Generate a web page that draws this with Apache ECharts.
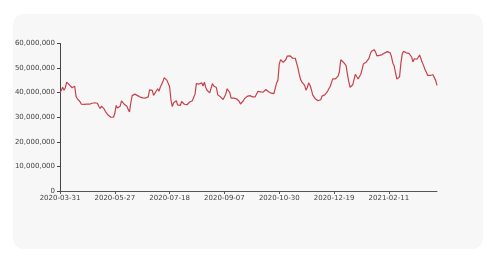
<!DOCTYPE html>
<html><head><meta charset="utf-8">
<script src="https://cdn.jsdelivr.net/npm/echarts@6/dist/echarts.min.js"></script>
<style>
html,body{margin:0;padding:0;background:#fff;width:487px;height:263px;overflow:hidden}
#card{position:absolute;left:13px;top:14px;width:470px;height:235px;background:#f7f7f7;border-radius:11px}
#c{position:absolute;left:0;top:0;width:487px;height:263px}
</style></head><body>
<div id="card"></div><div id="c"></div>
<script>
// anchor dates shown as x tick labels (every 41 categories)
const tickDates = ['2020-03-31','2020-05-27','2020-07-18','2020-09-07','2020-10-30','2020-12-19','2021-02-11'];
const perTick = 41;
const tailCount = 37; // categories from last tick label to the end (inclusive)
// series values, in millions
const valuesM = [
40.0,41.0,42.2,41.0,42.0,44.3,44.0,43.2,42.4,42.0,
42.6,42.6,38.5,37.5,37.0,36.3,35.3,35.1,35.2,35.2,
35.3,35.3,35.3,35.3,35.7,36.2,35.9,35.5,35.7,34.5,
33.6,34.5,34.3,33.4,32.3,31.5,30.9,30.4,30.0,29.8,
30.0,31.5,34.8,33.8,33.8,34.5,36.7,36.0,35.3,35.2,
34.5,33.2,32.2,36.0,38.8,39.2,39.4,39.0,38.8,38.5,
38.2,38.0,37.9,37.5,37.8,37.5,38.3,41.1,41.3,40.9,
38.9,39.2,40.7,41.6,40.6,42.2,43.0,44.5,46.1,45.6,
45.0,44.8,42.4,37.0,34.3,35.9,35.3,36.7,35.0,35.3,
34.8,36.4,35.9,35.3,35.9,35.1,35.9,36.2,36.2,36.7,
37.5,39.4,43.7,44.0,43.5,43.7,44.0,42.7,44.3,42.1,
41.0,40.2,39.9,39.7,43.7,42.7,42.7,42.1,39.1,38.8,
38.3,37.8,37.2,38.0,39.4,41.6,40.8,40.0,37.8,37.5,
37.8,37.6,37.5,37.3,36.5,35.4,35.9,36.6,37.5,38.3,
38.5,38.6,38.8,38.3,38.3,38.3,38.3,38.6,40.5,40.3,
40.3,40.5,40.2,40.8,41.3,40.6,40.4,40.1,39.8,40.5,
39.6,39.6,43.9,45.0,51.6,53.4,53.0,52.3,51.7,53.5,
54.9,55.1,55.0,55.5,54.0,54.0,54.0,53.4,50.0,47.4,
45.3,44.3,44.1,43.0,41.0,42.1,44.0,43.0,41.3,39.1,
38.6,37.5,37.0,36.7,36.7,37.1,38.6,38.1,39.1,39.4,
40.4,41.5,42.4,44.0,45.6,45.4,45.6,46.2,46.7,48.5,
53.4,53.2,52.4,52.2,51.0,47.5,44.5,42.2,41.6,43.2,
45.5,47.5,46.5,45.6,46.2,47.5,49.5,51.8,52.6,52.4,
52.3,53.8,55.6,56.8,57.4,57.5,56.6,55.0,54.3,55.2,
55.7,55.5,55.4,56.2,56.6,56.7,56.7,56.2,54.5,52.0,
50.8,48.0,45.5,44.9,46.5,52.0,55.8,56.8,56.6,56.2,
56.2,56.0,55.7,54.5,52.5,53.8,54.0,53.6,53.5,55.3,
54.5,52.3,51.0,49.4,48.4,47.0,46.6,47.0,46.8,47.3,
46.5,45.0,43.0
];
const yTicks = [0,10000000,20000000,30000000,40000000,50000000,60000000];

// build category dates between the anchor labels
function fmt(d){const m=String(d.getUTCMonth()+1).padStart(2,'0');const dd=String(d.getUTCDate()).padStart(2,'0');return d.getUTCFullYear()+'-'+m+'-'+dd;}
const categories = [];
for (let t=0;t<tickDates.length;t++){
  const a = new Date(tickDates[t]+'T00:00:00Z').getTime();
  const last = t===tickDates.length-1;
  const b = last ? a + 50*86400000 : new Date(tickDates[t+1]+'T00:00:00Z').getTime();
  const n = last ? tailCount : perTick;
  for (let k=0;k<n;k++){
    const dayOff = Math.round((b-a)/86400000*k/perTick);
    categories.push(fmt(new Date(a+dayOff*86400000)));
  }
}
const values = valuesM.map(v=>Math.round(v*1e6));

const chart = echarts.init(document.getElementById('c'), null, {renderer:'canvas'});
const lab = {color:'#444', fontSize:7, fontFamily:'DejaVu Sans'};
chart.setOption({
  backgroundColor:'transparent',
  animation:false,
  grid:{left:60,right:50,top:43.5,bottom:72,containLabel:false},
  xAxis:{type:'category',data:categories,boundaryGap:false,
    axisLine:{lineStyle:{color:'#555',width:1}},
    axisTick:{interval:perTick-1,length:3,lineStyle:{color:'#555'}},
    axisLabel:Object.assign({interval:perTick-1,margin:4},lab),
    splitLine:{show:false}},
  yAxis:{type:'value',min:yTicks[0],max:yTicks[yTicks.length-1],interval:yTicks[1]-yTicks[0],
    axisLine:{show:true,lineStyle:{color:'#444',width:1}},
    axisTick:{show:true,length:3,lineStyle:{color:'#444'}},
    axisLabel:Object.assign({margin:5},lab),
    splitLine:{show:false}},
  series:[{type:'line',data:values,showSymbol:false,symbol:'none',
    lineStyle:{color:'#c8414b',width:1.2}}]
});
</script>
</body></html>
